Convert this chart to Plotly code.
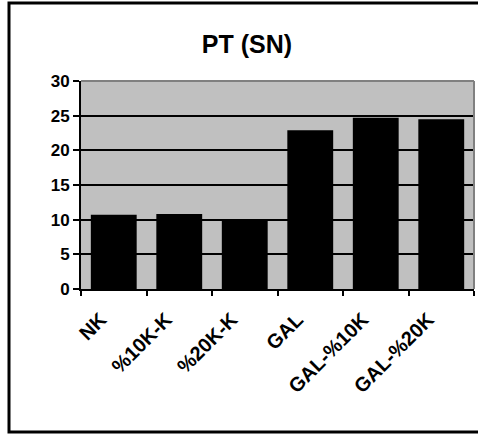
import plotly.graph_objects as go

categories = ["NK", "%10K-K", "%20K-K", "GAL", "GAL-%10K", "GAL-%20K"]
pt_values = [10.7, 10.8, 10.1, 22.9, 24.7, 24.5]
y_ticks = [0, 5, 10, 15, 20, 25, 30]

FONT = "Liberation Sans"

fig = go.Figure(
    go.Bar(
        x=categories,
        y=pt_values,
        marker=dict(color="black", line=dict(width=0)),
    )
)

# plot area spans 81..474 px horizontally, 81..289 px vertically
W, H = 478, 435
L, R, T, B = 81, 4, 81, 146
pw = W - L - R
ph = H - T - B

def px_x(x):
    return (x - L) / pw

def px_y(y):
    return (H - B - y) / ph

fig.update_layout(
    width=W,
    height=H,
    margin=dict(l=L, r=R, t=T, b=B, pad=0),
    paper_bgcolor="white",
    plot_bgcolor="#C0C0C0",
    bargap=0.3,
    showlegend=False,
    font=dict(family=FONT, color="black"),
    title=dict(
        text="<b>PT (SN)</b>",
        font=dict(size=25, family=FONT, color="black"),
        x=px_x(247),
        xref="paper",
        xanchor="center",
        y=1 - 44 / H,
        yref="container",
        yanchor="middle",
    ),
    xaxis=dict(
        type="category",
        tickangle=-45,
        tickmode="array",
        tickvals=categories,
        ticktext=[f"<b>{c}</b>" for c in categories],
        tickfont=dict(size=20, family=FONT, color="black"),
        ticklabelstandoff=9,
        ticklabelshift=-13,
        showline=True,
        linecolor="black",
        linewidth=2,
        ticks="outside",
        tickson="boundaries",
        ticklen=5,
        tickwidth=1.5,
        tickcolor="black",
        showgrid=False,
    ),
    yaxis=dict(
        range=[0, 30],
        tickmode="array",
        tickvals=y_ticks,
        ticktext=[f"<b>{v}</b>" for v in y_ticks],
        tickfont=dict(size=17, family=FONT, color="black"),
        showline=True,
        linecolor="black",
        linewidth=2,
        ticks="outside",
        ticklen=6,
        tickwidth=1.5,
        tickcolor="black",
        showgrid=True,
        gridcolor="black",
        gridwidth=1.5,
        zeroline=False,
    ),
    shapes=[
        # gray top and right border of the plot area
        dict(type="line", xref="paper", yref="paper", x0=0, x1=1, y0=1, y1=1,
             line=dict(color="#808080", width=2)),
        dict(type="line", xref="paper", yref="paper", x0=1, x1=1, y0=0, y1=1,
             line=dict(color="#808080", width=2)),
        # outer chart frame
        dict(type="rect", xref="paper", yref="paper",
             x0=px_x(9), x1=px_x(482), y0=px_y(3), y1=px_y(432),
             line=dict(color="black", width=3), layer="above"),
    ],
)

fig.write_html("out.html")
